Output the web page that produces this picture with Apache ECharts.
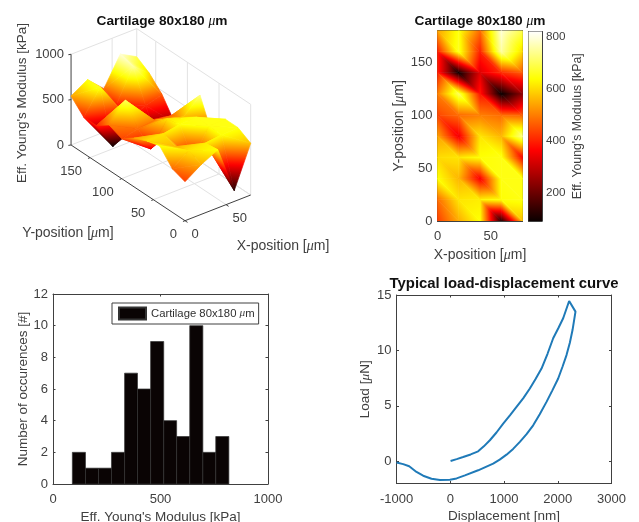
<!DOCTYPE html>
<html>
<head>
<meta charset="utf-8">
<style>html,body{margin:0;padding:0;background:#fff}#c{width:639px;height:522px;filter:blur(0.6px)}</style>
<script src="https://cdn.jsdelivr.net/npm/echarts@6/dist/echarts.min.js"></script>
</head>
<body>
<div id="c"></div>
<script>
// ---------- data ----------
const xPositions = [0, 20, 40, 60, 80];
const yPositions = [180, 160, 140, 120, 100, 80, 60, 40, 20, 0];
const modulusRow180 = [540, 650, 480, 790, 690];
const modulusRow160 = [400, 660, 400, 750, 600];
const modulusRow140 = [400, 100, 330, 410, 460];
const modulusRow120 = [500, 700, 390, 93, 240];
const modulusRow100 = [440, 480, 500, 480, 470];
const modulusRow80 = [540, 350, 610, 560, 730];
const modulusRow60 = [600, 610, 640, 650, 370];
const modulusRow40 = [640, 560, 360, 650, 650];
const modulusRow20 = [480, 610, 620, 640, 650];
const modulusRow0 = [430, 550, 640, 120, 570];
const modulusRows = [modulusRow180, modulusRow160, modulusRow140, modulusRow120, modulusRow100,
  modulusRow80, modulusRow60, modulusRow40, modulusRow20, modulusRow0];
const colorLimits = [93, 819];
const colorbarTicks = [200, 400, 600, 800];

const histEdges = [90, 151, 212, 272, 333, 393, 454, 515, 575, 636, 697, 757, 818];
const histCounts = [2, 1, 1, 2, 7, 6, 9, 4, 3, 10, 2, 3];

const curveDisplacement = [-1000, -876, -764, -628, -504, -349, -192, -6, 118, 273, 519, 798, 920, 1047, 1170, 1295, 1420, 1543, 1665, 1791, 1900, 2008, 2090, 2163, 2225, 2275, 2330, 2212, 2101, 2010, 1915, 1810, 1698, 1590, 1481, 1360, 1233, 1110, 985, 860, 737, 625, 519, 380, 240, 120, 6];
const curveLoad = [-0.1, -0.25, -0.45, -0.96, -1.3, -1.57, -1.69, -1.66, -1.54, -1.27, -0.81, -0.21, 0.15, 0.6, 1.12, 1.75, 2.45, 3.25, 4.25, 5.36, 6.4, 7.47, 8.55, 9.58, 10.7, 11.84, 13.5, 14.46, 12.9, 12.0, 11.1, 9.7, 8.37, 7.45, 6.57, 5.7, 4.91, 4.15, 3.4, 2.6, 1.9, 1.35, 0.9, 0.62, 0.39, 0.2, 0.03];

const xTicks3d = [0, 50];
const yTicks3d = [0, 50, 100, 150];
const zTicks3d = [0, 500, 1000];
const titleMap = 'Cartilage 80x180 {mu|μ}m';
const titleCurve = 'Typical load-displacement curve';
const labelX = 'X-position [{mu|μ}m]';
const labelY = 'Y-position [{mu|μ}m]';
const labelModulus = "Eff. Young's Modulus [kPa]";
const labelCount = 'Number of occurences [#]';
const labelDisp = 'Displacement [nm]';
const labelLoad = 'Load [{mu|μ}N]';
const legendName = 'Cartilage 80x180 μm';

// ---------- styling ----------
const FONT = '"Liberation Sans", Arial, sans-serif';
const INK = '#404040';
const LIGHT = '#e2e2e2';
const NAME = 13.5, POS = 14;
const muRich = s => ({ mu: { fontFamily: '"Liberation Serif", serif', fontStyle: 'italic', fontSize: s, fontWeight: 'normal', color: INK } });
const muRichBold = s => ({ mu: { fontFamily: '"Liberation Serif", serif', fontStyle: 'italic', fontSize: s, fontWeight: 'normal', color: '#111' } });

// MATLAB "hot" colormap
function hot(t) {
  t = Math.max(0, Math.min(1, t));
  const r = Math.min(1, 0.0417 + t * (1 - 0.0417) / 0.375);
  const g = Math.max(0, Math.min(1, (t - 0.375) / 0.375));
  const b = Math.max(0, Math.min(1, (t - 0.75) / 0.25));
  return 'rgb(' + Math.round(r * 255) + ',' + Math.round(g * 255) + ',' + Math.round(b * 255) + ')';
}
const valueT = v => (v - colorLimits[0]) / (colorLimits[1] - colorLimits[0]);

function gradientFill(pts, vals) {
  const [p0, p1, p2] = pts;
  const ux = p1[0] - p0[0], uy = p1[1] - p0[1], wx = p2[0] - p0[0], wy = p2[1] - p0[1];
  const det = ux * wy - uy * wx;
  const lo = Math.min(...vals), hi = Math.max(...vals);
  if (Math.abs(det) < 1e-6 || hi - lo < 1e-6) return hot(valueT((lo + hi) / 2));
  const dz1 = vals[1] - vals[0], dz2 = vals[2] - vals[0];
  const a = (dz1 * wy - dz2 * uy) / det, b = (ux * dz2 - wx * dz1) / det;
  const start = pts[vals.indexOf(lo)];
  const d = (hi - lo) / (a * a + b * b);
  const stops = [];
  for (let i = 0; i <= 24; i++) {
    const o = i / 24;
    stops.push({ offset: o, color: hot(valueT(lo + (hi - lo) * o)) });
  }
  return new echarts.graphic.LinearGradient(start[0], start[1], start[0] + a * d, start[1] + b * d, stops, true);
}

// triangles of the surface, far corner first; every quad is split along the same diagonal
const triangles = [];
for (let c = xPositions.length - 2; c >= 0; c--) {
  for (let r = 0; r < yPositions.length - 1; r++) {
    const v = (cc, rr) => [xPositions[cc], yPositions[rr], modulusRows[rr][cc]];
    triangles.push([v(c, r), v(c + 1, r), v(c + 1, r + 1)]);
    triangles.push([v(c, r), v(c + 1, r + 1), v(c, r + 1)]);
  }
}

// oblique view used by the 3-D panel -> scene units of the hidden grid
function project(x, y, z) {
  return [185 + 0.821 * x - 0.633 * y, 220.7 - 0.321 * x - 0.4205 * y - 0.0907 * z];
}

function triangleItem(map) {
  return function (params, api) {
    const tri = triangles[params.dataIndex];
    const pts = tri.map(map(api));
    const vals = tri.map(p => p[2]);
    const fill = gradientFill(pts, vals);
    return {
      type: 'polygon',
      shape: { points: pts },
      style: { fill: fill, stroke: fill, lineWidth: 0.7 },
      silent: true
    };
  };
}

function axes3dItem(params, api) {
  const P = (x, y, z) => api.coord(project(x, y, z));
  const kids = [];
  const seg = (a, b, color) => {
    const p = P(a[0], a[1], a[2]), q = P(b[0], b[1], b[2]);
    kids.push({ type: 'line', shape: { x1: p[0], y1: p[1], x2: q[0], y2: q[1] }, style: { stroke: color, lineWidth: 1 } });
  };
  const X = 80, Y = 180, Z = 1000;
  zTicks3d.forEach(z => { seg([0, Y, z], [X, Y, z], LIGHT); seg([X, Y, z], [X, 0, z], LIGHT); });
  xTicks3d.concat([X]).forEach(x => { if (x) { seg([x, Y, 0], [x, Y, Z], LIGHT); seg([x, 0, 0], [x, Y, 0], LIGHT); } });
  yTicks3d.forEach(y => { seg([X, y, 0], [X, y, Z], LIGHT); if (y) seg([0, y, 0], [X, y, 0], LIGHT); });
  seg([0, Y, 0], [0, 0, 0], INK);
  seg([0, 0, 0], [X, 0, 0], INK);
  seg([0, Y, 0], [0, Y, Z], INK);
  zTicks3d.forEach(z => seg([0, Y, z], [-2.5, Y + 1, z], INK));
  yTicks3d.forEach(y => seg([0, y, 0], [-2.5, y, 0], INK));
  xTicks3d.forEach(x => seg([x, 0, 0], [x, -4, 0], INK));

  const txt = (text, x, y, align, rotation, size) => kids.push({
    type: 'text', x: x, y: y, rotation: rotation || 0,
    style: { text: text, fill: INK, fontFamily: FONT, fontSize: size || 13, align: align, verticalAlign: 'middle', rich: muRich(size || 13) }
  });
  zTicks3d.forEach(z => { const p = P(0, Y, z); txt(String(z), p[0] - 7, p[1], 'right'); });
  yTicks3d.forEach(y => { const p = P(0, y, 0); txt(String(y), p[0] - 8, p[1] + 13.5, 'right'); });
  xTicks3d.forEach(x => { const p = P(x, 0, 0); txt(String(x), p[0] + 6.5, p[1] + 14, 'left'); });
  const o = P(0, 0, 0);
  txt(labelY, o[0] - 117, o[1] + 12.5, 'center', 0, POS);
  txt(labelX, o[0] + 98, o[1] + 25.5, 'center', 0, POS);
  const zm = P(0, Y, 0);
  txt(labelModulus, zm[0] - 49, zm[1] - 42, 'center', Math.PI / 2, NAME);
  return { type: 'group', children: kids };
}

function xAxisPair(grid, min, max, ticks, name, gap, size) {
  const main = {
    type: 'value', gridIndex: grid, min: min, max: max, position: 'bottom',
    name: name, nameLocation: 'middle', nameGap: gap, nameMoveOverlap: false,
    nameTextStyle: { color: INK, fontFamily: FONT, fontSize: size || NAME, rich: muRich(size || NAME) },
    axisLine: { show: true, onZero: false, lineStyle: { color: INK, width: 1 } },
    axisTick: { show: true, inside: true, length: 2.5, customValues: ticks, lineStyle: { color: INK } },
    axisLabel: { show: true, customValues: ticks, color: INK, fontFamily: FONT, fontSize: 13, margin: 9, hideOverlap: false, formatter: v => String(v) },
    splitLine: { show: false }
  };
  const top = {
    type: 'value', gridIndex: grid, min: min, max: max, position: 'top',
    axisLine: { show: true, onZero: false, lineStyle: { color: INK, width: 1 } },
    axisTick: { show: true, inside: true, length: 2.5, customValues: ticks, lineStyle: { color: INK } },
    axisLabel: { show: false }, splitLine: { show: false }
  };
  return [main, top];
}
function yAxisPair(grid, min, max, ticks, name, gap, size) {
  const main = {
    type: 'value', gridIndex: grid, min: min, max: max, position: 'left',
    name: name, nameLocation: 'middle', nameGap: gap, nameRotate: 90, nameMoveOverlap: false,
    nameTextStyle: { color: INK, fontFamily: FONT, fontSize: size || NAME, rich: muRich(size || NAME) },
    axisLine: { show: true, onZero: false, lineStyle: { color: INK, width: 1 } },
    axisTick: { show: true, inside: true, length: 2.5, customValues: ticks, lineStyle: { color: INK } },
    axisLabel: { show: true, customValues: ticks, color: INK, fontFamily: FONT, fontSize: 13, margin: 5, hideOverlap: false, formatter: v => String(v) },
    splitLine: { show: false }
  };
  const right = {
    type: 'value', gridIndex: grid, min: min, max: max, position: 'right',
    axisLine: { show: true, onZero: false, lineStyle: { color: INK, width: 1 } },
    axisTick: { show: true, inside: true, length: 2.5, customValues: ticks, lineStyle: { color: INK } },
    axisLabel: { show: false }, splitLine: { show: false }
  };
  return [main, right];
}

const hiddenX = { type: 'value', gridIndex: 0, min: 0, max: 639, show: false };
const hiddenY = { type: 'value', gridIndex: 0, min: 0, max: 522, inverse: true, show: false };

const cbarX = xAxisPair(2, 0, 1, [], '', 0);
cbarX[0].axisLabel.show = false; cbarX[0].axisTick.show = false; cbarX[1].axisTick.show = false;
const cbarY = yAxisPair(2, colorLimits[0], colorLimits[1], colorbarTicks, '', 0);
cbarY[0].axisLabel.show = false; cbarY[0].axisTick.show = false; cbarY[0].name = '';
cbarY[1].axisLabel = { show: true, customValues: colorbarTicks, color: INK, fontFamily: FONT, fontSize: 11.7, margin: 4, hideOverlap: false };
Object.assign(cbarY[1], {
  name: labelModulus, nameLocation: 'middle', nameGap: 30, nameRotate: 90, nameMoveOverlap: false,
  nameTextStyle: { color: INK, fontFamily: FONT, fontSize: 12.3 }
});

const titleStyle = s => ({ color: '#111', fontFamily: FONT, fontSize: s, fontWeight: 'bold', rich: muRichBold(s) });
const plainGrid = g => Object.assign({ outerBoundsMode: 'none', containLabel: false }, g);

const option = {
  animation: false,
  backgroundColor: '#fff',
  title: [
    { text: titleMap, left: 162, top: 14, textAlign: 'center', textStyle: titleStyle(13.7), padding: 0 },
    { text: titleMap, left: 480, top: 14, textAlign: 'center', textStyle: titleStyle(13.7), padding: 0 },
    { text: titleCurve, left: 504, top: 276, textAlign: 'center', textStyle: titleStyle(14.9), padding: 0 }
  ],
  legend: {
    left: 112, top: 303, orient: 'horizontal', padding: [3.5, 4, 3.5, 6],
    itemWidth: 27, itemHeight: 12, borderColor: INK, borderWidth: 1, backgroundColor: '#fff',
    selectedMode: false,
    data: [{ name: legendName, icon: 'rect' }],
    formatter: () => 'Cartilage 80x180 {mu|μ}m',
    textStyle: { color: '#303030', fontFamily: FONT, fontSize: 11.3, rich: muRich(11.3) }
  },
  grid: [
    plainGrid({ left: 0, top: 0, width: 639, height: 522 }),
    plainGrid({ left: 437.5, top: 30.5, width: 85, height: 190.5 }),
    plainGrid({ left: 528.5, top: 31.5, width: 13.5, height: 189.5 }),
    plainGrid({ left: 53, top: 294, width: 215, height: 190 }),
    plainGrid({ left: 396.5, top: 295, width: 215, height: 188.5 })
  ],
  xAxis: [hiddenX]
    .concat(xAxisPair(1, 0, 80, [0, 50], labelX, 27, POS))
    .concat(cbarX)
    .concat(xAxisPair(3, 0, 1000, [0, 500, 1000], labelModulus, 26))
    .concat(xAxisPair(4, -1000, 3000, [-1000, 0, 1000, 2000, 3000], labelDisp, 26)),
  yAxis: [hiddenY]
    .concat(yAxisPair(1, 0, 180, [0, 50, 100, 150], labelY, 31, POS))
    .concat(cbarY)
    .concat(yAxisPair(3, 0, 12, [0, 2, 4, 6, 8, 10, 12], labelCount, 23))
    .concat(yAxisPair(4, -2, 15, [0, 5, 10, 15], labelLoad, 24)),
  series: [
    { type: 'custom', xAxisIndex: 0, yAxisIndex: 0, silent: true, clip: false, data: [[0, 0]], renderItem: axes3dItem, z: 1 },
    { type: 'custom', xAxisIndex: 0, yAxisIndex: 0, silent: true, clip: false, z: 2,
      data: triangles.map(t => project(t[0][0], t[0][1], t[0][2])),
      renderItem: triangleItem(api => p => api.coord(project(p[0], p[1], p[2]))) },
    { type: 'custom', xAxisIndex: 1, yAxisIndex: 1, silent: true, clip: true, z: 1,
      data: triangles.map(t => [t[0][0], t[0][1]]),
      renderItem: triangleItem(api => p => api.coord([p[0], p[1]])) },
    { type: 'custom', xAxisIndex: 3, yAxisIndex: 3, silent: true, z: 1,
      data: [[0, colorLimits[0], colorLimits[1]]],
      renderItem: function (params, api) {
        const a = api.coord([0, colorLimits[1]]), b = api.coord([1, colorLimits[0]]);
        const stops = [];
        for (let i = 0; i <= 32; i++) stops.push({ offset: i / 32, color: hot(1 - i / 32) });
        return { type: 'rect', shape: { x: a[0], y: a[1], width: b[0] - a[0], height: b[1] - a[1] },
          style: { fill: new echarts.graphic.LinearGradient(0, 0, 0, 1, stops) } };
      } },
    { type: 'custom', name: legendName, xAxisIndex: 5, yAxisIndex: 5, silent: true, z: 1,
      itemStyle: { color: '#0a0404', borderColor: '#333', borderWidth: 1 },
      data: histCounts.map((n, i) => [histEdges[i], histEdges[i + 1], n]),
      renderItem: function (params, api) {
        const a = api.coord([api.value(0), api.value(2)]), b = api.coord([api.value(1), 0]);
        return { type: 'rect', shape: { x: a[0], y: a[1], width: b[0] - a[0], height: b[1] - a[1] },
          style: { fill: '#0a0404', stroke: '#333', lineWidth: 0.7 } };
      },
      encode: { x: [0, 1], y: 2 } },
    { type: 'line', xAxisIndex: 7, yAxisIndex: 7, silent: true, showSymbol: false, smooth: false, z: 1,
      data: curveDisplacement.map((d, i) => [d, curveLoad[i]]),
      lineStyle: { color: '#1f7ab8', width: 2 } }
  ]
};
const chart = echarts.init(document.getElementById('c'), null, { renderer: 'canvas' });
chart.setOption(option);
</script>
</body>
</html>
